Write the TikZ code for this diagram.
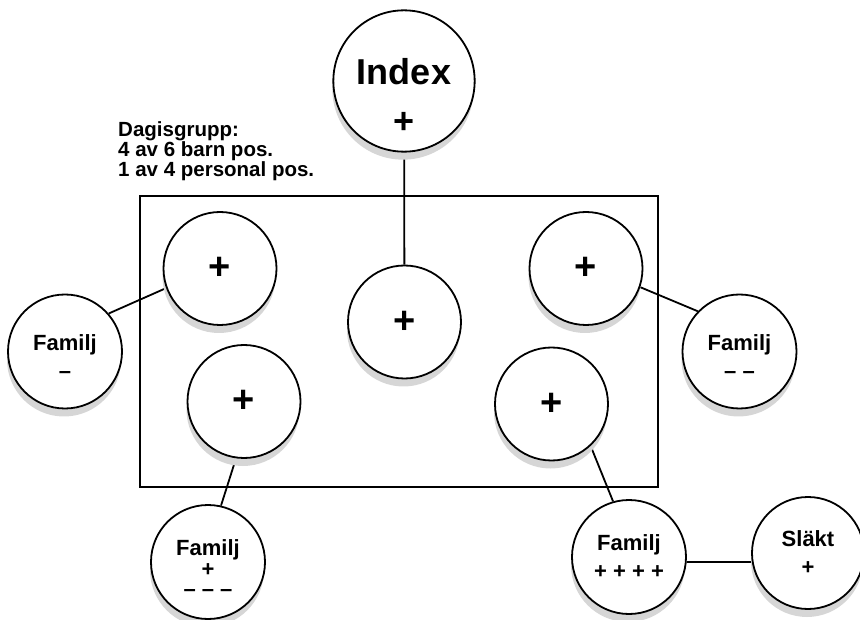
\documentclass[tikz,border=0pt]{standalone}
\usepackage{fontspec}
\setmainfont{Liberation Sans}
\usetikzlibrary{shadows, backgrounds}

\begin{document}
\begin{tikzpicture}[
    x=1pt, y=-1pt,
    person/.style = {circle, draw=black, fill=white, line width=1.8pt, inner sep=0pt, minimum size=113pt, align=center, font=\bfseries\fontsize{38}{38}\selectfont, drop shadow={shadow xshift=-1pt, shadow yshift=-8pt, fill=black!16, opacity=1}},
    famtext/.style = {minimum size=114pt, font=\bfseries\fontsize{22}{28}\selectfont},
    link/.style = {draw=black, line width=1.8pt},
    groupbox/.style = {draw=black, line width=1.8pt}
]
\useasboundingbox (0,0) rectangle (860,620);

% Dagisgrupp
\draw [groupbox] (140,196) rectangle (658,487);
\node (grupptext) [anchor=north west, inner sep=0pt, align=left, font=\bfseries\fontsize{20.5}{20}\selectfont] at (118, 121) {Dagisgrupp:\\4 av 6 barn pos.\\1 av 4 personal pos.};

% Index
\node (index) [person, minimum size=141pt, font=\bfseries\fontsize{36}{49}\selectfont] at (404, 81) {\rule{0pt}{57pt}Index\\+};

% Group members
\node (mid) [person] at (404.5, 322) {+};
\node (tl)  [person] at (220, 268.5) {+};
\node (tr)  [person] at (586, 268.5) {+};
\node (bl)  [person] at (244, 401.5) {+};
\node (br)  [person] at (551.5, 404) {+};

% Families
\node (famL)  [person, famtext] at (65, 351.5)  {\rule{0pt}{26pt}Familj\\–};
\node (famR)  [person, famtext] at (739.5, 351.5) {\rule{0pt}{26pt}Familj\\– –};
\node (famBL) [person, famtext, font=\bfseries\fontsize{22}{20.5}\selectfont] at (208, 562) {\rule{0pt}{28pt}Familj\\+\\– – –};
\node (famBR) [person, famtext] at (629, 557) {Familj\\+ + + +};
\node (slakt) [person, famtext, minimum size=112pt] at (808, 553) {Släkt\\+};

% Links
\begin{pgfonlayer}{background}
\draw [link] (index) -- (mid);
\draw [link] (famL.41) -- (tl.200);
\draw [link] (tr.341) -- (famR.136);
\draw [link] (bl.262) -- (famBL.77);
\draw [link] (br.313) -- (famBR.106);
\draw [link] (famBR.-5) -- (slakt.189);
\end{pgfonlayer}

\end{tikzpicture}
\end{document}
